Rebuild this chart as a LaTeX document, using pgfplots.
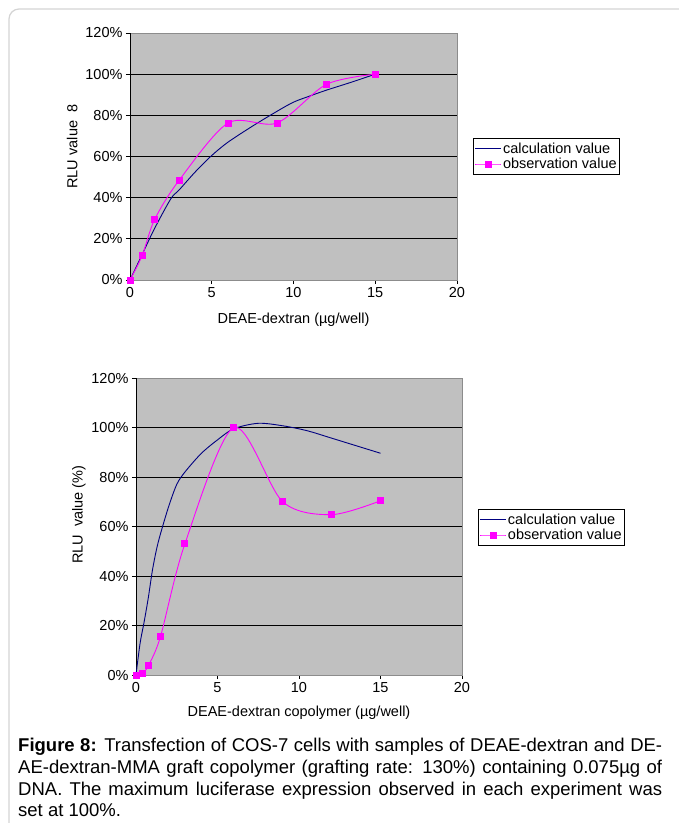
\documentclass[border=0pt]{standalone}
\usepackage{pgfplots}
\pgfplotsset{compat=1.18}
\usepackage{fontspec}
\setmainfont{Liberation Sans}
\newfontfamily\capfont{Liberation Sans}
\definecolor{bgray}{HTML}{C0C0C0}
\definecolor{navyc}{HTML}{000080}
\definecolor{magc}{HTML}{FF00FF}
\definecolor{framec}{HTML}{D4D4D4}
\pgfplotsset{
  myaxis/.style={
    scale only axis,
    xmin=0, xmax=20, ymin=0, ymax=120,
    xtick={0,5,10,15,20},
    ytick={0,20,40,60,80,100,120},
    xtick pos=bottom, ytick pos=left,
    yticklabel={\pgfmathprintnumber{\tick}\%},
    /pgf/number format/assume math mode=true,
    tick align=outside,
    major tick length=4pt,
    tick style={black, line width=0.8pt},
    axis background/.style={fill=bgray},
    axis line style={draw=gray!90, line width=0.8pt},
    extra y ticks={20,40,60,80,100},
    extra y tick labels={},
    extra y tick style={grid=major, major tick length=0pt},
    grid style={black, line width=0.8pt},
    tick label style={font=\fontsize{14.5}{16}\selectfont},
    label style={font=\fontsize{14.5}{16}\selectfont},
    clip=false,
    legend cell align=left,
    legend image code/.code={\draw[mark repeat=2,mark phase=2,#1] plot coordinates {(0pt,0pt) (13pt,0pt) (26pt,0pt)};},
    legend style={draw=black, fill=white, font=\fontsize{14.5}{15}\selectfont,
      inner xsep=1.5pt, inner ysep=3pt, row sep=1pt, line width=0.8pt,
      nodes={inner sep=1.2pt}},
  },
  calc/.style={navyc, line width=0.9pt, smooth, no markers},
  obs/.style={magc, line width=0.9pt, smooth, mark=square*, mark size=3pt,
    mark options={fill=magc, draw=magc}},
}
\begin{document}
\begin{tikzpicture}
\useasboundingbox (0pt,0pt) rectangle (679pt,-823pt);
\fill[white] (0pt,0pt) rectangle (679pt,-823pt);
\begin{scope}
\clip (0pt,0pt) rectangle (679pt,-823pt);
\draw[framec, line width=1.2pt, rounded corners=10pt] (9pt,-9pt) rectangle (720pt,-860pt);
\end{scope}

% ---- top chart ----
\begin{axis}[myaxis,
  at={(130pt,-280pt)}, anchor=south west,
  width=327pt, height=247pt,
  xlabel={DEAE-dextran (µg/well)},
  ylabel={RLU value\ \ 8},
  xlabel style={at={(axis description cs:0.5,-0.162)}, anchor=center},
  ylabel style={at={(axis description cs:-0.177,0.54)}, anchor=center},
  legend style={at={(axis description cs:1.049,0.575)}, anchor=north west},
]
\draw[black, line width=0.8pt] (rel axis cs:0,0) -- (rel axis cs:0,1);
\addplot[calc] coordinates {
 (0,0) (0.75,12.5) (1.5,25) (2.5,39.5) (3,43.7) (4,52.6) (5,60.5) (6,67)
 (7.5,74.8) (9,82) (10,86.4) (11,89.4) (12,92.2) (13.5,96) (15,100)};
\addlegendentry{calculation value}
\addplot[obs] coordinates {
 (0,0) (0.75,12) (1.5,29.3) (3,48.4) (6,76.3) (9,76.3) (12,95) (15,100)};
\addlegendentry{observation value}
\end{axis}

% ---- bottom chart ----
\begin{axis}[myaxis,
  at={(136pt,-675pt)}, anchor=south west,
  width=326pt, height=297pt,
  xlabel={DEAE-dextran copolymer (µg/well)},
  ylabel={RLU\ \ value (\%)},
  xlabel style={at={(axis description cs:0.5,-0.128)}, anchor=center},
  ylabel style={at={(axis description cs:-0.175,0.54)}, anchor=center},
  legend style={at={(axis description cs:1.049,0.559)}, anchor=north west},
]
\draw[black, line width=0.8pt] (rel axis cs:0,0) -- (rel axis cs:0,1);
\addplot[calc] coordinates {
 (0,0) (0.25,12.8) (0.5,21.5) (0.75,31) (1,42) (1.25,50.5) (1.5,57) (2,68)
 (2.5,77) (3,82) (4,89.5) (5,95) (6,99.5) (7.5,101.7) (9,100.7) (10.5,98.7)
 (12,95.7) (15,89.6)};
\addlegendentry{calculation value}
\addplot[obs] coordinates {
 (0,0) (0.375,0.5) (0.75,3.7) (1.5,15.5) (3,53) (6,100) (9,70) (12,64.8) (15,70.4)};
\addlegendentry{observation value}
\end{axis}

% ---- caption ----
\node[anchor=north west, inner sep=0pt, text width=644pt, align=justify,
  font=\capfont\fontsize{18.5}{21.7}\selectfont] at (18pt,-738pt) {%
\textbf{Figure 8:} Transfection of COS-7 cells with samples of DEAE-dextran and DE-\linebreak
AE-dextran-MMA graft copolymer (grafting rate: 130\%) containing 0.075µg of\linebreak
DNA. The maximum luciferase expression observed in each experiment was\linebreak
set at 100\%.};
\end{tikzpicture}
\end{document}
